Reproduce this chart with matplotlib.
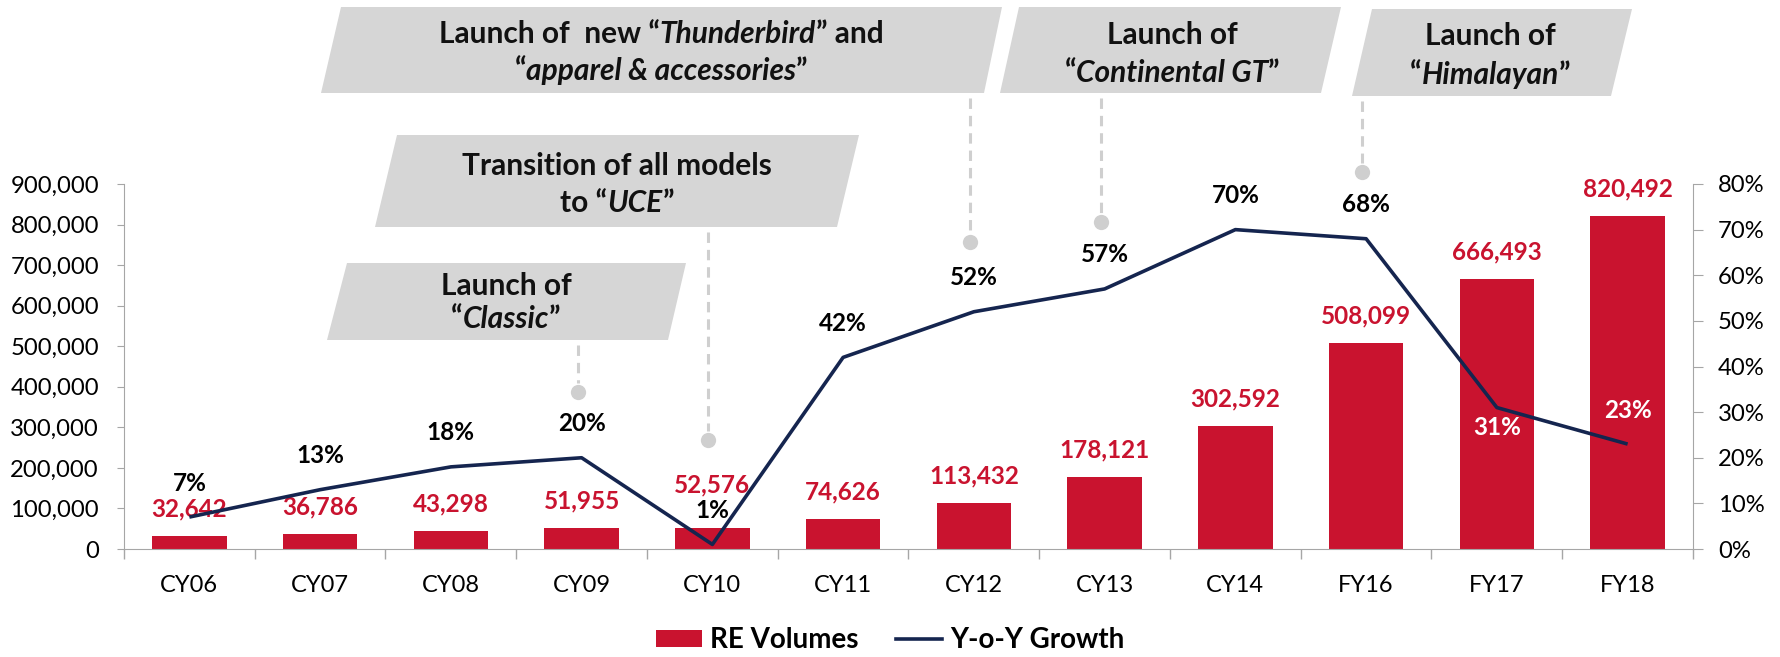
import matplotlib
matplotlib.use("Agg")
import numpy as np
import matplotlib.pyplot as plt
from matplotlib.patches import Patch, Polygon
from matplotlib.lines import Line2D
from matplotlib.ticker import FuncFormatter
from matplotlib.transforms import blended_transform_factory

plt.rcParams["font.family"] = ["Lato", "DejaVu Sans"]
plt.rcParams["lines.scale_dashes"] = False

# ----------------------------------------------------------------- data
periods = ["CY06", "CY07", "CY08", "CY09", "CY10", "CY11",
           "CY12", "CY13", "CY14", "FY16", "FY17", "FY18"]
volumes = [32642, 36786, 43298, 51955, 52576, 74626,
           113432, 178121, 302592, 508099, 666493, 820492]
growth = [7, 13, 18, 20, 1, 42, 52, 57, 70, 68, 31, 23]   # Y-o-Y, %

# milestone callouts: period they point at, two text lines of (text, italic)
events = [
    ("CY09", [[("Launch of", False)], [("“", False), ("Classic", True), ("”", False)]]),
    ("CY10", [[("Transition of all models", False)],
              [("to “", False), ("UCE", True), ("”", False)]]),
    ("CY12", [[("Launch of  new “", False), ("Thunderbird", True), ("” and", False)],
              [("“", False), ("apparel & accessories", True), ("”", False)]]),
    ("CY13", [[("Launch of", False)], [("“", False), ("Continental GT", True), ("”", False)]]),
    ("FY16", [[("Launch of", False)], [("“", False), ("Himalayan", True), ("”", False)]]),
]

RED = "#C9132F"
NAVY = "#15254F"
AXGRAY = "#A6A6A6"
BOXGRAY = "#D6D6D6"
PINGRAY = "#CFCFCF"

W, H = 1781, 657
fig = plt.figure(figsize=(W / 100, H / 100), dpi=100)
ax = fig.add_axes([124 / W, 1 - 549 / H, (1693 - 124) / W, 365 / H])
ax2 = ax.twinx()

x = np.arange(len(periods))
ax.bar(x, volumes, width=0.57, color=RED, zorder=2)
ax2.plot(x, growth, color=NAVY, lw=2.6, solid_capstyle="butt", zorder=3)

ax.set_xlim(-0.5, len(periods) - 0.5)
ax.set_ylim(0, 900000)
ax.set_yticks(range(0, 900001, 100000))
ax.yaxis.set_major_formatter(FuncFormatter(lambda v, _: f"{v:,.0f}"))
ax2.set_ylim(0, 80)
ax2.set_yticks(range(0, 81, 10))
ax2.yaxis.set_major_formatter(FuncFormatter(lambda v, _: f"{v:.0f}%"))

ax.set_xticks(np.arange(-0.5, len(periods), 1))
ax.set_xticklabels([])
ax.set_xticks(x, minor=True)
ax.set_xticklabels(periods, minor=True)
ax.tick_params(axis="x", which="major", length=7, color=AXGRAY, width=1)
ax.tick_params(axis="x", which="minor", length=0, pad=19, labelsize=17)
ax.tick_params(axis="y", length=5, color=AXGRAY, pad=13, labelsize=17.2)
ax2.tick_params(axis="y", length=7, color=AXGRAY, pad=11, labelsize=17.2)

for a in (ax, ax2):
    a.spines["top"].set_visible(False)
    for s in ("left", "right", "bottom"):
        a.spines[s].set_color(AXGRAY)
ax.spines["right"].set_visible(False)
ax2.spines["left"].set_visible(False)
ax2.spines["bottom"].set_visible(False)

# value labels
for i, v in enumerate(volumes):
    dy = 31 if periods[i] == "CY10" else 19.5
    ax.annotate(f"{v:,}", (i, v), xytext=(0, dy), textcoords="offset points",
                ha="center", va="center", color=RED, fontsize=17.5, fontweight="bold")
for i, g in enumerate(growth):
    inside = periods[i] in ("FY17", "FY18")
    dy = -14.5 if periods[i] == "FY17" else 24.5
    ax2.annotate(f"{g}%", (i, g), xytext=(0, dy), textcoords="offset points",
                 ha="center", va="center", fontsize=17.5, fontweight="bold",
                 color="white" if inside else "black", zorder=5)

# ----------------------------------------------------------------- callouts
# box geometry in pixels: top, bottom, TL x, TR x, BL x, BR x, text cx, line ys, pin y
layout = {
    "CY09": (263, 340, 347, 686, 327, 668, 506, (284, 317), 392),
    "CY10": (135, 227, 397, 859, 375, 837, 617, (164, 201), 440),
    "CY12": (7, 93, 341, 1002, 321, 984, 661, (32, 69), 242),
    "CY13": (7, 93, 1019, 1341, 1000, 1321, 1172, (33, 71), 222),
    "FY16": (9, 96, 1372, 1632, 1352, 1611, 1490, (34, 73), 172),
}
CALLOUT_SIZE = 21.5


def fx(px):
    return px / W


def fy(py):
    return 1 - py / H


renderer = fig.canvas.get_renderer()
CAP = CALLOUT_SIZE * 100 / 72 * 0.72 / 2   # half cap height in px


def rich_line(cx, cy, parts, size=CALLOUT_SIZE):
    texts = []
    for s, it in parts:
        t = fig.text(0, 0, s, fontsize=size, fontweight="bold",
                     fontstyle="italic" if it else "normal",
                     ha="left", va="baseline", color="#111111")
        texts.append(t)
    widths = [t.get_window_extent(renderer).width for t in texts]
    left = cx - sum(widths) / 2
    for t, w in zip(texts, widths):
        t.set_position((fx(left), fy(cy + CAP)))
        left += w


pin_tr = blended_transform_factory(ax.transData, fig.transFigure)
for period, lines in events:
    top, bot, tl, tr, bl, br, cx, ys, pin = layout[period]
    fig.add_artist(Polygon([(fx(tl), fy(top)), (fx(tr), fy(top)),
                            (fx(br), fy(bot)), (fx(bl), fy(bot))],
                           closed=True, facecolor=BOXGRAY, edgecolor="none",
                           transform=fig.transFigure))
    for parts, yy in zip(lines, ys):
        rich_line(cx, yy, parts)
    xi = periods.index(period) - 0.03
    fig.add_artist(Line2D([xi, xi], [fy(bot + 5), fy(pin - 9)], transform=pin_tr,
                          color=PINGRAY, lw=2.2, dashes=(7.5, 5)))
    fig.add_artist(Line2D([xi], [fy(pin)], transform=pin_tr, marker="o",
                          markersize=11, color=PINGRAY, markeredgewidth=0))

# ----------------------------------------------------------------- legend
handles = [Patch(facecolor=RED, edgecolor="none", label="RE Volumes"),
           Line2D([], [], color=NAVY, lw=2.6, label="Y-o-Y Growth")]
fig.legend(handles=handles, loc="center", bbox_to_anchor=(0.5, 1 - 640 / H),
           ncol=2, frameon=False, prop={"weight": "bold", "size": 20},
           handlelength=1.65, handletextpad=0.3, columnspacing=1.35,
           handleheight=0.55)

fig.savefig("out.png", dpi=100)
